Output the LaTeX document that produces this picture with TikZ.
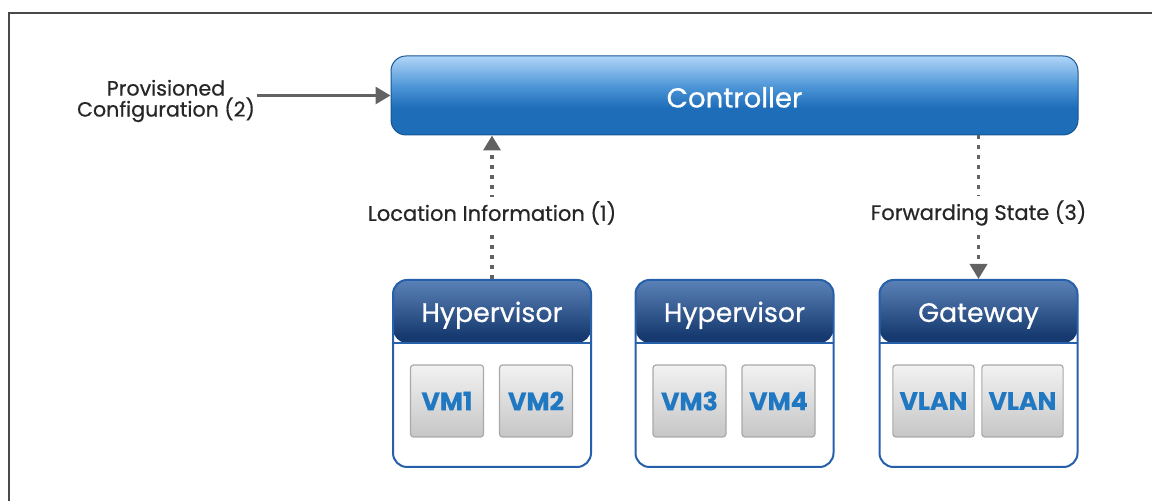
\documentclass[tikz,border=0pt]{standalone}
\usepackage{fontspec}
\setmainfont{Poppins}[FakeBold=0.6]
\usetikzlibrary{arrows.meta,positioning}
\definecolor{ctrllight}{HTML}{B0D5F8}
\definecolor{ctrlmid}{HTML}{4A93D6}
\definecolor{ctrldark}{HTML}{1D6DB8}
\definecolor{headlight}{HTML}{5B82B8}
\definecolor{headdark}{HTML}{163A70}
\definecolor{hostline}{HTML}{2660AA}
\definecolor{vmtop}{HTML}{F2F2F2}
\definecolor{vmbot}{HTML}{C6C6C6}
\definecolor{vmline}{HTML}{A9A9A9}
\definecolor{vmtext}{HTML}{1F78C1}
\definecolor{arrowgray}{HTML}{626262}
\definecolor{textgray}{HTML}{262626}
\definecolor{framegray}{HTML}{4A4A4A}
\pgfdeclareverticalshading{ctrlshade}{100bp}{color(0bp)=(ctrldark); color(25bp)=(ctrldark); color(42bp)=(ctrldark); color(55bp)=(ctrlmid); color(75bp)=(ctrllight); color(100bp)=(ctrllight)}
\pgfdeclareverticalshading{headshade}{100bp}{color(0bp)=(headdark); color(25bp)=(headdark); color(60bp)=(headdark); color(75bp)=(headlight); color(100bp)=(headlight)}
\begin{document}
\begin{tikzpicture}[x=0.5pt,y=-0.5pt,>={Triangle[width=8.5pt,length=7.5pt]},
	ctrlbox/.style={rounded corners=7.5pt,draw=ctrldark!80!black,line width=0.5pt,shading=ctrlshade,
		minimum width=343.5pt,minimum height=39.5pt},
	ctrltext/.style={text=white,font=\fontsize{13.8}{15}\selectfont,inner sep=0pt},
	hostbox/.style={draw=hostline,line width=1pt,fill=white,rounded corners=7pt,
		minimum width=99pt,minimum height=93.5pt,
		path picture={\shade[shading=headshade] (path picture bounding box.north west) rectangle ([yshift=-31.5pt]path picture bounding box.north east);
			\draw[hostline,line width=1pt] ([yshift=-31.5pt]path picture bounding box.north west) -- ([yshift=-31.5pt]path picture bounding box.north east);}},
	headtext/.style={text=white,font=\fontsize{13.4}{14}\selectfont,inner sep=0pt},
	vmbox/.style={draw=vmline,line width=0.6pt,top color=vmtop,bottom color=vmbot,rounded corners=1.5pt,
		minimum width=36.5pt,minimum height=36pt,text=vmtext,font=\fontsize{12.6}{14}\selectfont\bfseries},
	flow/.style={->,arrowgray,line width=1.5pt},
	dots/.style={->,arrowgray,line width=1.75pt,dash pattern=on 1.75pt off 3.25pt},
	lbl/.style={text=textgray,font=\fontsize{10.5}{12}\selectfont,fill=white,inner sep=2pt}]
	\useasboundingbox (0,0) rectangle (1152,501);
	% frame
	\draw[framegray,line width=1pt] (9,520) -- (9,13) -- (1170,13);

	\node[ctrlbox] (ctrl) at (734.5,95.5) {};
	\node[ctrltext,anchor=base] (ctrl-title) at ([yshift=-26pt]ctrl.north) {Controller};
	\node[text=textgray,font=\fontsize{10.3}{10.5}\selectfont,align=center,inner sep=1pt] (prov) at (166,101) {Provisioned\\Configuration (2)};

	\foreach \name/\x/\title/\left/\right in {hv1/492/Hypervisor/VM1/VM2,hv2/734.5/Hypervisor/VM3/VM4,gw/978.5/Gateway/VLAN/VLAN}{
		\node[hostbox] (\name) at (\x,373.5) {};
		\node[headtext,anchor=base] (\name-title) at ([yshift=-21.5pt]\name.north) {\title};
		\node[vmbox] (\name-l) at (\x-45,401) {\left};
		\node[vmbox] (\name-r) at (\x+44,401) {\right};
	}

	\draw[flow] (prov.east |- ctrl.west) -- (ctrl.west);
	\draw[dots] (hv1.north) -- node[lbl,pos=0.46] {Location Information (1)} (hv1.north |- ctrl.south);
	\draw[dots] (ctrl.south -| gw.north) -- node[lbl,pos=0.54] {Forwarding State (3)} (gw.north);
\end{tikzpicture}
\end{document}
